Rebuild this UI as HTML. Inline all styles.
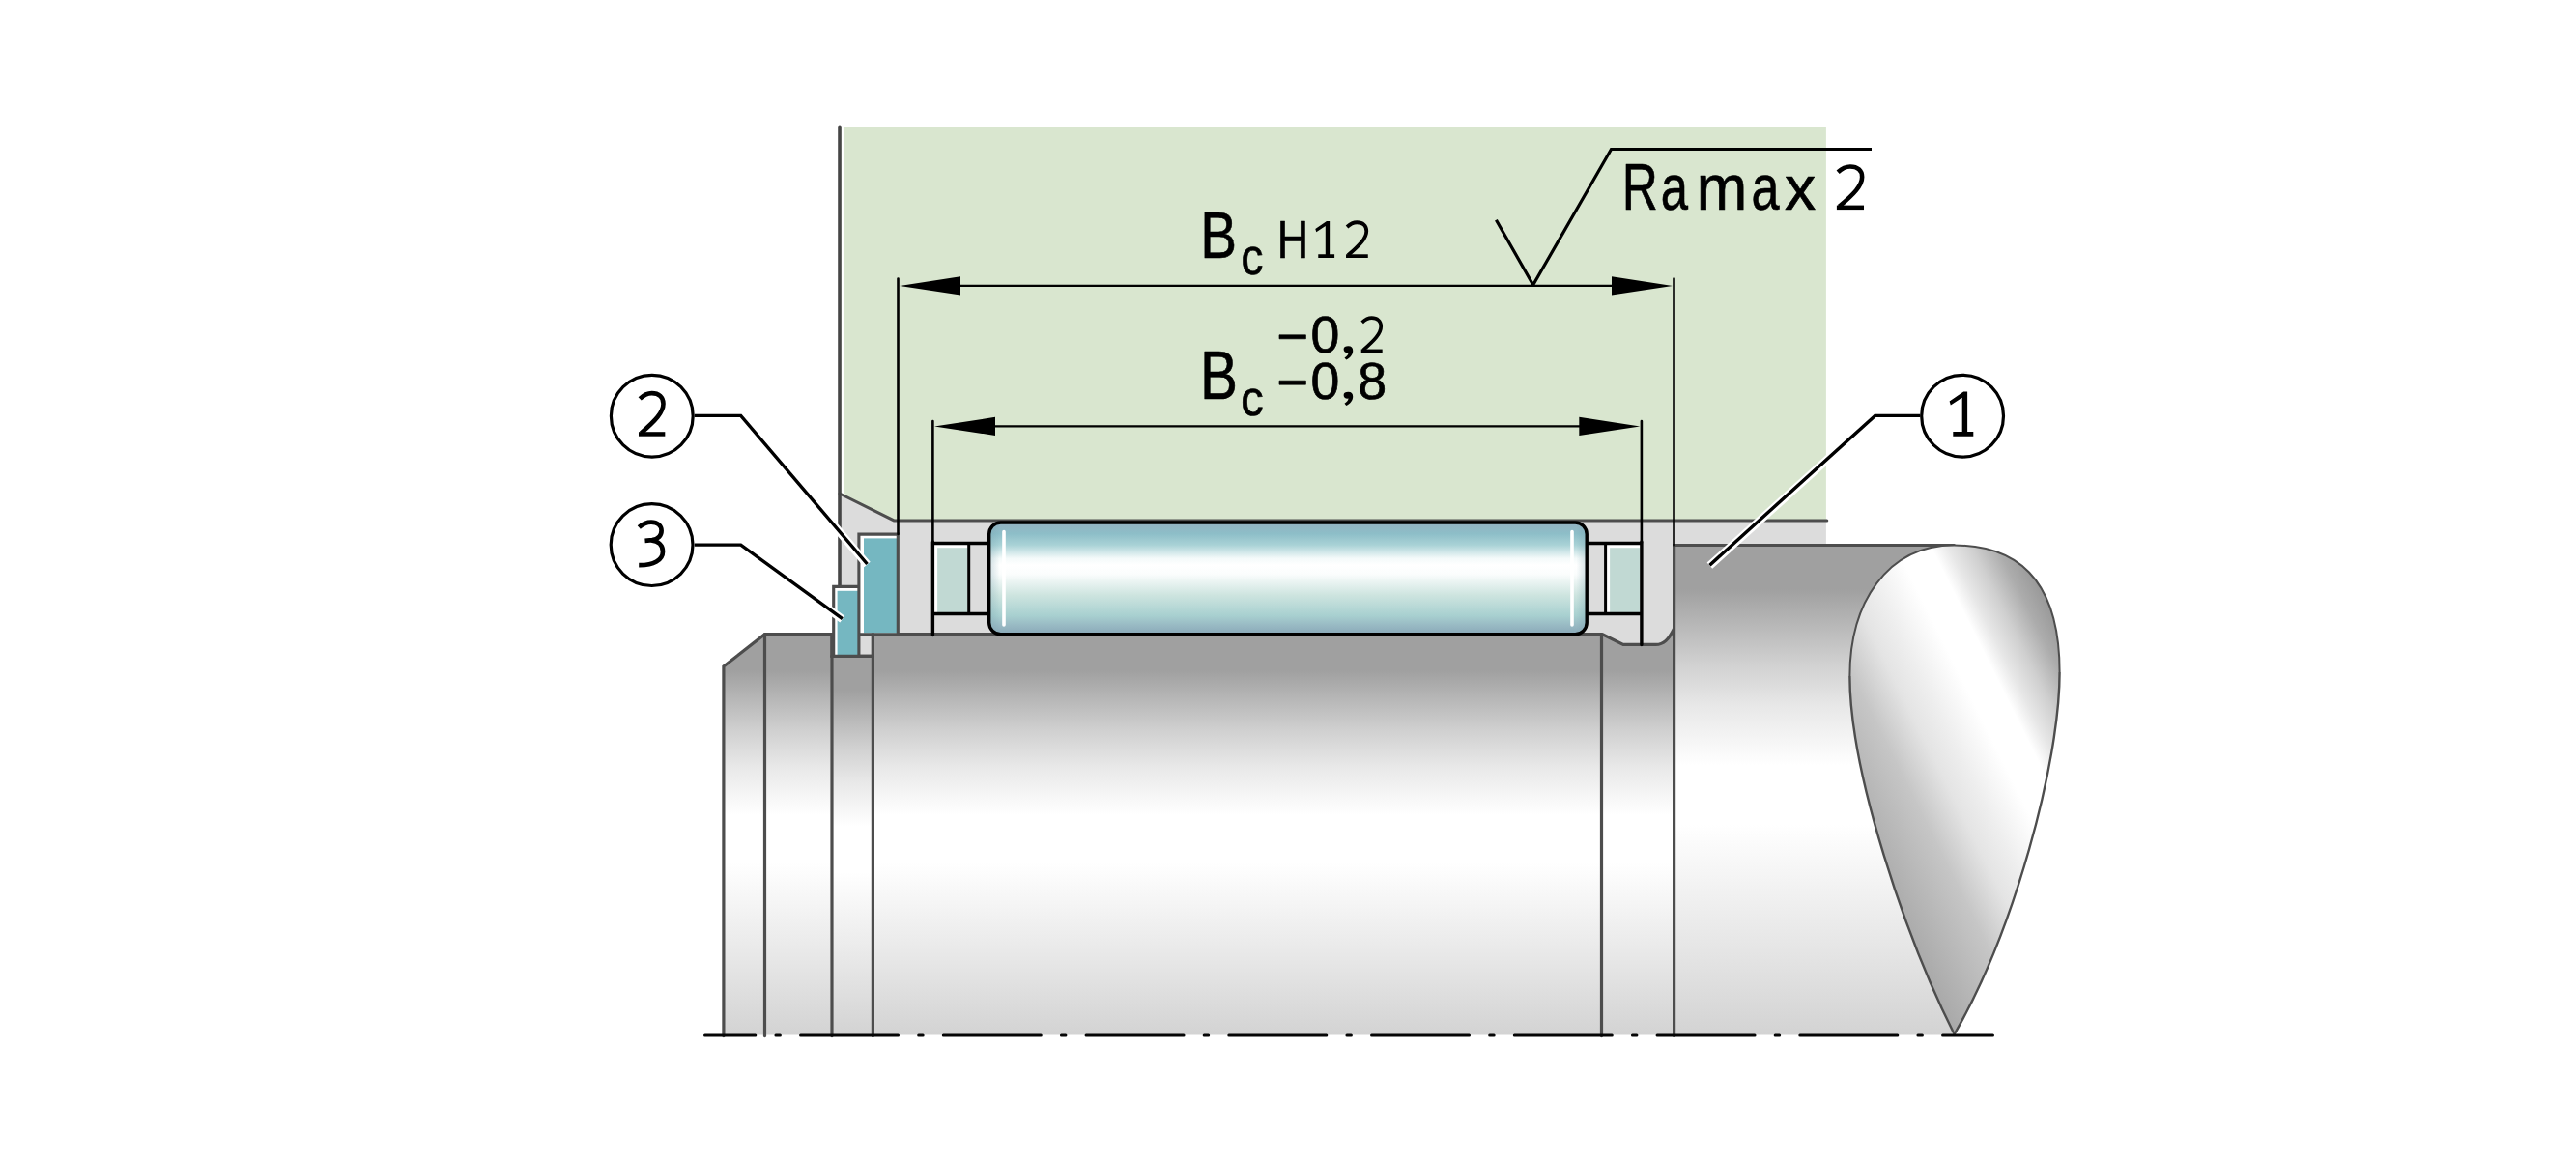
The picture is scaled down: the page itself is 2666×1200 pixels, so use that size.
<!DOCTYPE html>
<html><head><meta charset="utf-8"><title>Bearing arrangement</title>
<style>html,body{margin:0;padding:0;background:#fff;}svg{display:block;}text{font-family:"Liberation Sans",sans-serif;}</style>
</head><body>
<svg width="2666" height="1200" viewBox="0 0 2666 1200">
<defs><linearGradient id="gA" gradientUnits="userSpaceOnUse" x1="0" y1="656.7" x2="0" y2="1071.5"><stop offset="0" stop-color="#a0a0a0"/><stop offset="0.09" stop-color="#a0a0a0"/><stop offset="0.24" stop-color="#d0d0d0"/><stop offset="0.33" stop-color="#e8e8e8"/><stop offset="0.45" stop-color="#ffffff"/><stop offset="0.57" stop-color="#ffffff"/><stop offset="0.66" stop-color="#f6f6f6"/><stop offset="0.8" stop-color="#e8e8e8"/><stop offset="1" stop-color="#d3d3d3"/></linearGradient><linearGradient id="gC" gradientUnits="userSpaceOnUse" x1="0" y1="679.4" x2="0" y2="1071.5"><stop offset="0" stop-color="#a0a0a0"/><stop offset="0.09" stop-color="#a0a0a0"/><stop offset="0.24" stop-color="#d0d0d0"/><stop offset="0.33" stop-color="#e8e8e8"/><stop offset="0.45" stop-color="#ffffff"/><stop offset="0.57" stop-color="#ffffff"/><stop offset="0.66" stop-color="#f6f6f6"/><stop offset="0.8" stop-color="#e8e8e8"/><stop offset="1" stop-color="#d3d3d3"/></linearGradient><linearGradient id="gF" gradientUnits="userSpaceOnUse" x1="0" y1="564.5" x2="0" y2="1071.5"><stop offset="0" stop-color="#a0a0a0"/><stop offset="0.09" stop-color="#a0a0a0"/><stop offset="0.24" stop-color="#d0d0d0"/><stop offset="0.33" stop-color="#e8e8e8"/><stop offset="0.45" stop-color="#ffffff"/><stop offset="0.57" stop-color="#ffffff"/><stop offset="0.66" stop-color="#f6f6f6"/><stop offset="0.8" stop-color="#e8e8e8"/><stop offset="1" stop-color="#d3d3d3"/></linearGradient><linearGradient id="gR" gradientUnits="userSpaceOnUse" x1="0" y1="541" x2="0" y2="657">
<stop offset="0" stop-color="#93b1c0"/><stop offset="0.10" stop-color="#8dbec8"/><stop offset="0.20" stop-color="#a9d2d6"/>
<stop offset="0.32" stop-color="#f4fafa"/><stop offset="0.38" stop-color="#ffffff"/><stop offset="0.46" stop-color="#fbfdfd"/>
<stop offset="0.65" stop-color="#cde4df"/><stop offset="0.83" stop-color="#a8d0d0"/><stop offset="0.92" stop-color="#98b9c3"/><stop offset="1" stop-color="#88a7b7"/>
</linearGradient><linearGradient id="gRe" gradientUnits="userSpaceOnUse" x1="1024" y1="0" x2="1642" y2="0">
<stop offset="0" stop-color="#6f9aa8" stop-opacity="0.30"/><stop offset="0.017" stop-color="#6f9aa8" stop-opacity="0"/>
<stop offset="0.983" stop-color="#6f9aa8" stop-opacity="0"/><stop offset="1" stop-color="#6f9aa8" stop-opacity="0.30"/></linearGradient><linearGradient id="gT" gradientUnits="userSpaceOnUse" x1="1914.6" y1="853.7" x2="2169.4" y2="726.3">
<stop offset="0" stop-color="#a9a9a9"/><stop offset="0.25" stop-color="#c6c6c6"/><stop offset="0.38" stop-color="#e4e4e4"/>
<stop offset="0.47" stop-color="#eeeeee"/><stop offset="0.60" stop-color="#ffffff"/><stop offset="0.715" stop-color="#ffffff"/><stop offset="0.77" stop-color="#e8e8e8"/>
<stop offset="0.85" stop-color="#cecece"/><stop offset="0.93" stop-color="#acacac"/><stop offset="1" stop-color="#9a9a9a"/></linearGradient></defs>
<rect width="2666" height="1200" fill="#ffffff"/>
<polygon points="869,131 1889.9,131 1889.9,538.9 925.2,538.9 869,510.8" fill="#d9e6cf"/>
<polygon points="869,510.8 925.2,538.9 1889.9,538.9 1889.9,564.5 1732.6,564.5 1732.6,670 1657.5,670 1657.5,656.7 903.4,656.7 903.4,679.4 888.9,679.4 888.9,607.4 869,607.4" fill="#dcdcdc"/>
<rect x="870.6" y="130.5" width="3" height="381.5" fill="#ffffff"/>
<polyline points="869,511 925.2,538.9 1890.8,538.9" fill="none" stroke="#4d4d4d" stroke-width="3.0" stroke-linejoin="miter" stroke-linecap="round"/>
<line x1="869" y1="131.2" x2="869" y2="607.4" stroke="#454545" stroke-width="3.6" stroke-linecap="round"/>
<path d="M748.9,1071.5 L748.9,690 L791.5,656.7 L791.5,1071.5" fill="url(#gA)" stroke="none"/>
<rect x="791.5" y="656.7" width="69.5" height="414.79999999999995" fill="url(#gA)"/>
<rect x="861" y="679.4" width="42.4" height="392.1" fill="url(#gC)"/>
<rect x="903.4" y="656.7" width="754.1" height="414.79999999999995" fill="url(#gA)"/>
<path d="M1657.5,1071.5 L1657.5,656.7 L1658.6,656.9 L1679.9,667.4 L1713.5,667.4 C1722,667.4 1727,662 1732.2,651.5 L1732.6,1071.5 Z" fill="url(#gA)"/>
<path d="M1732.6,1071.5 L1732.6,564.5 L2022.4,564.5 C1952.4,564.5 1914.4,625 1914.4,700 C1914.4,800 1972.4,970.8 2022.6,1070.8 L2022.4,1071.5 Z" fill="url(#gF)"/>
<g fill="none" stroke="#4d4d4d" stroke-width="3.2" stroke-linejoin="miter" stroke-linecap="round">
<path d="M748.9,1072.6 L748.9,690 L791.5,656.7 L861,656.7 L861,679.4 L903.4,679.4 L903.4,656.7 L1657.5,656.7 L1658.6,656.9 L1679.9,667.4 L1713.5,667.4 C1722,667.4 1727,662 1732.2,651.5"/>
<path d="M791.5,656.7 L791.5,1072.6"/>
<path d="M861,679.4 L861,1072.6"/>
<path d="M903.4,679.4 L903.4,1072.6"/>
<path d="M1657.5,656.7 L1657.5,1072.6"/>
<path d="M1732.6,1072.6 L1732.6,564.5 L2022.4,564.5"/>
</g>
<path d="M2022.4,564.5 C1952.4,564.5 1914.4,625 1914.4,700 C1914.4,800 1972.4,970.8 2022.6,1070.8 C2084,965 2131.6,790 2131.6,696 C2131.6,611 2097.4,564.5 2022.4,564.5 Z" fill="url(#gT)" stroke="none"/>
<path d="M1914.4,700 C1914.4,625 1952.4,564.5 2022.4,564.5 C2097.4,564.5 2131.6,611 2131.6,696" fill="none" stroke="#4d4d4d" stroke-width="2.0"/>
<path d="M1914.4,700 C1914.4,800 1972.4,970.8 2022.6,1070.8 C2084,965 2131.6,790 2131.6,696" fill="none" stroke="#4d4d4d" stroke-width="2.4" stroke-linejoin="miter" stroke-linecap="butt"/>
<rect x="862.7" y="607.4" width="26.199999999999932" height="72.0" fill="#ffffff"/>
<rect x="866.6" y="611.8" width="22.299999999999955" height="66.40000000000009" fill="#75b7c1"/>
<rect x="888.9" y="553.1" width="40.39999999999998" height="103.60000000000002" fill="#ffffff"/>
<rect x="894" y="557.4" width="34" height="98.0" fill="#75b7c1"/>
<g fill="none" stroke="#4d4d4d" stroke-width="3.1" stroke-linejoin="miter">
<polyline points="888.9,679.4 888.9,553.1 929.3,553.1 929.3,656.7"/>
<polyline points="888.9,607.4 862.7,607.4 862.7,679.4"/>
<line x1="859.7" y1="679.4" x2="904.7" y2="679.4"/>
<line x1="861" y1="655.4" x2="861" y2="680"/>
<line x1="903.4" y1="655.4" x2="903.4" y2="680"/>
<line x1="888.9" y1="656.7" x2="931" y2="656.7"/>
</g>
<rect x="967" y="563" width="34.299999999999955" height="72" fill="#ffffff"/>
<rect x="970.1" y="567.2" width="31.199999999999953" height="67.0" fill="#c1d9d3"/>
<path d="M965.4,562.5 L1023.7,562.5 M965.4,635.5 L1023.7,635.5" stroke="#000" stroke-width="3.5" fill="none"/>
<path d="M1002.7,562.4 L1002.7,635.6" stroke="#000" stroke-width="3" fill="none"/>
<rect x="1663" y="563" width="34.40000000000009" height="72" fill="#ffffff"/>
<rect x="1666.1" y="567.2" width="31.30000000000009" height="67.0" fill="#c1d9d3"/>
<path d="M1642.2,562.5 L1698.9,562.5 M1642.2,635.5 L1698.9,635.5" stroke="#000" stroke-width="3.5" fill="none"/>
<path d="M1661.6,562.4 L1661.6,635.6" stroke="#000" stroke-width="3" fill="none"/>
<rect x="1023.7" y="541" width="618.5" height="115.70000000000005" rx="12" ry="12" fill="url(#gR)"/>
<rect x="1023.7" y="541" width="618.5" height="115.70000000000005" rx="12" ry="12" fill="url(#gRe)" stroke="#000" stroke-width="3.4"/>
<path d="M1039,550.5 L1039,647 M1627,550.5 L1627,647" stroke="#fff" stroke-width="3.6" stroke-linecap="round"/>
<g stroke="#000" stroke-width="2.6" stroke-linecap="round" fill="none">
<path d="M929.5,288.5 L929.5,553 M1732.5,288.5 L1732.5,564.5"/>
<path d="M965.4,436 L965.4,562 M1698.9,436 L1698.9,562"/>
<path d="M965.4,561 L965.4,657.5 M1698.9,561 L1698.9,667.5" stroke-width="3.4"/>
</g>
<path d="M990,295.9 L1670,295.9 M1025,441.4 L1638,441.4" stroke="#000" stroke-width="2.4" fill="none"/>
<polygon points="931,295.9 994,286.29999999999995 994,305.5" fill="#000"/>
<polygon points="1731,295.9 1668,286.29999999999995 1668,305.5" fill="#000"/>
<polygon points="967,441.4 1030,431.79999999999995 1030,451.0" fill="#000"/>
<polygon points="1697.3,441.4 1634.3,431.79999999999995 1634.3,451.0" fill="#000"/>
<polyline points="1548.4,227.7 1586.7,295 1667.5,154.5 1937,154.5" fill="none" stroke="#000" stroke-width="3.2" stroke-linejoin="miter" stroke-miterlimit="1.8"/>
<path d="M718.8,430.4 L766.7,430.4 L897.5,584" transform="translate(0,0.5)" fill="none" stroke="#fff" stroke-width="8.4" stroke-linejoin="miter"/>
<path d="M718.8,564.1 L766.7,564.1 L871.8,640.7" transform="translate(0,0.5)" fill="none" stroke="#fff" stroke-width="8.4" stroke-linejoin="miter"/>
<path d="M1987.3,430.4 L1940.6,430.4 L1769.4,585.2" transform="translate(0,0.5)" fill="none" stroke="#fff" stroke-width="8.4" stroke-linejoin="miter"/>
<path d="M718.8,430.4 L766.7,430.4 L897.5,584" fill="none" stroke="#000" stroke-width="3.4" stroke-linejoin="miter"/>
<path d="M718.8,564.1 L766.7,564.1 L871.8,640.7" fill="none" stroke="#000" stroke-width="3.4" stroke-linejoin="miter"/>
<path d="M1987.3,430.4 L1940.6,430.4 L1769.4,585.2" fill="none" stroke="#000" stroke-width="3.4" stroke-linejoin="miter"/>
<circle cx="674.8" cy="430.7" r="42.4" fill="#fff" stroke="#000" stroke-width="3.2"/>
<circle cx="674.6" cy="564.1" r="42.4" fill="#fff" stroke="#000" stroke-width="3.2"/>
<circle cx="2031.1" cy="430.7" r="42.4" fill="#fff" stroke="#000" stroke-width="3.2"/>
<line x1="729.5" y1="1072" x2="2062.5" y2="1072" stroke="#050505" stroke-width="3" stroke-linecap="round" stroke-dasharray="101 21.125 4.5 21.125" stroke-dashoffset="48.7"/>
<g font-family="'Liberation Sans', sans-serif" fill="#000" stroke="#000" stroke-width="0.7" stroke-linejoin="round">
<text transform="translate(1242.25,266.65) scale(0.8184,1)" font-size="69.33">B</text>
<text transform="translate(1284.55,284.24) scale(0.8828,1)" font-size="52.02">c</text>
<text transform="translate(1321.83,266.65) scale(0.8146,1)" font-size="54.94">H</text>
<polygon points="1376.15,228.90 1376.15,263.19 1381.10,263.19 1381.10,267.00 1364.27,267.00 1364.27,263.19 1371.79,263.19 1371.79,234.04 1362.29,240.33 1361.30,237.09 1372.98,228.90" fill="#000" stroke="none"/>
<path d="M1394.03,235.00 C1397.20,232.02 1400.53,230.24 1404.35,230.24 C1410.41,230.24 1414.25,233.56 1414.25,239.17 C1414.25,246.61 1407.38,253.65 1395.03,264.29" fill="none" stroke="#000" stroke-width="3.79"/><rect x="1393.03" y="263.28" width="22.74" height="3.72" fill="#000" stroke="none"/>
<text transform="translate(1242.11,412.55) scale(0.8410,1)" font-size="69.48">B</text>
<text transform="translate(1284.31,430.35) scale(0.9167,1)" font-size="51.11">c</text>
<rect x="1324" y="346.8" width="27.4" height="4" fill="#000"/>
<text transform="translate(1356.41,365.03) scale(1.0057,1)" font-size="53.25">0</text>
<path transform="translate(0,0.00)" d="M1390.6,361.6 C1390.6,359.4 1392.6,358.3 1395.3,358.3 C1398.6,358.3 1400.2,360.3 1400.2,363 C1400.2,367 1397.5,370.4 1393.3,372.6 L1391.5,370.4 C1394,369 1395.4,367 1395.5,365.2 C1392.5,365.6 1390.6,364 1390.6,361.6 Z" stroke="none"/>
<rect x="1324" y="394.2" width="27.4" height="4" fill="#000"/>
<text transform="translate(1356.41,412.83) scale(1.0084,1)" font-size="53.11">0</text>
<path transform="translate(0,47.40)" d="M1390.6,361.6 C1390.6,359.4 1392.6,358.3 1395.3,358.3 C1398.6,358.3 1400.2,360.3 1400.2,363 C1400.2,367 1397.5,370.4 1393.3,372.6 L1391.5,370.4 C1394,369 1395.4,367 1395.5,365.2 C1392.5,365.6 1390.6,364 1390.6,361.6 Z" stroke="none"/>
<path d="M1409.68,333.86 C1412.74,330.94 1415.96,329.19 1419.65,329.19 C1425.50,329.19 1429.21,332.45 1429.21,337.95 C1429.21,345.23 1422.58,352.12 1410.65,362.55" fill="none" stroke="#000" stroke-width="3.71"/><rect x="1408.72" y="361.56" width="21.96" height="3.64" fill="#000" stroke="none"/>
<text transform="translate(1405.17,412.83) scale(1.0112,1)" font-size="53.11">8</text>
<text transform="translate(1678.79,216.75) scale(0.7568,1)" font-size="67.88">R</text>
<text transform="translate(1718.74,217.00) scale(0.7585,1)" font-size="66.99">a</text>
<text transform="translate(1755.71,216.75) scale(0.9535,1)" font-size="66.16">m</text>
<text transform="translate(1812.38,217.00) scale(0.7788,1)" font-size="66.99">a</text>
<text transform="translate(1847.08,216.75) scale(0.9895,1)" font-size="65.11">x</text>
<path d="M1902.14,178.23 C1906.06,174.61 1910.18,172.45 1914.90,172.45 C1922.39,172.45 1927.14,176.49 1927.14,183.31 C1927.14,192.33 1918.64,200.88 1903.38,213.81" fill="none" stroke="#000" stroke-width="4.61"/><rect x="1900.90" y="212.59" width="28.11" height="4.51" fill="#000" stroke="none"/>
<path d="M662.20,412.91 C666.00,409.30 670.01,407.14 674.60,407.14 C681.88,407.14 686.50,411.18 686.50,417.98 C686.50,426.98 678.24,435.52 663.40,448.42" fill="none" stroke="#000" stroke-width="4.60"/><rect x="660.99" y="447.20" width="27.33" height="4.50" fill="#000" stroke="none"/>
<path d="M661.3,545.9 C665,542.6 669.5,540.6 674,540.6 C680.3,540.6 684.6,544 684.6,549.6 C684.6,554.8 680.8,558.4 675,559.2 L667.5,559.8 M674,559.4 C681.5,560.2 686,564.6 686,571 C686,580 676.5,585.4 661.2,585.2" fill="none" stroke="#000" stroke-width="4.7" stroke-linejoin="round"/>
<polygon points="2036.12,405.60 2036.12,447.09 2042.30,447.09 2042.30,451.70 2021.30,451.70 2021.30,447.09 2030.69,447.09 2030.69,411.82 2018.83,419.43 2017.60,415.51 2032.17,405.60" fill="#000" stroke="none"/>
</g>
</svg>
</body></html>
